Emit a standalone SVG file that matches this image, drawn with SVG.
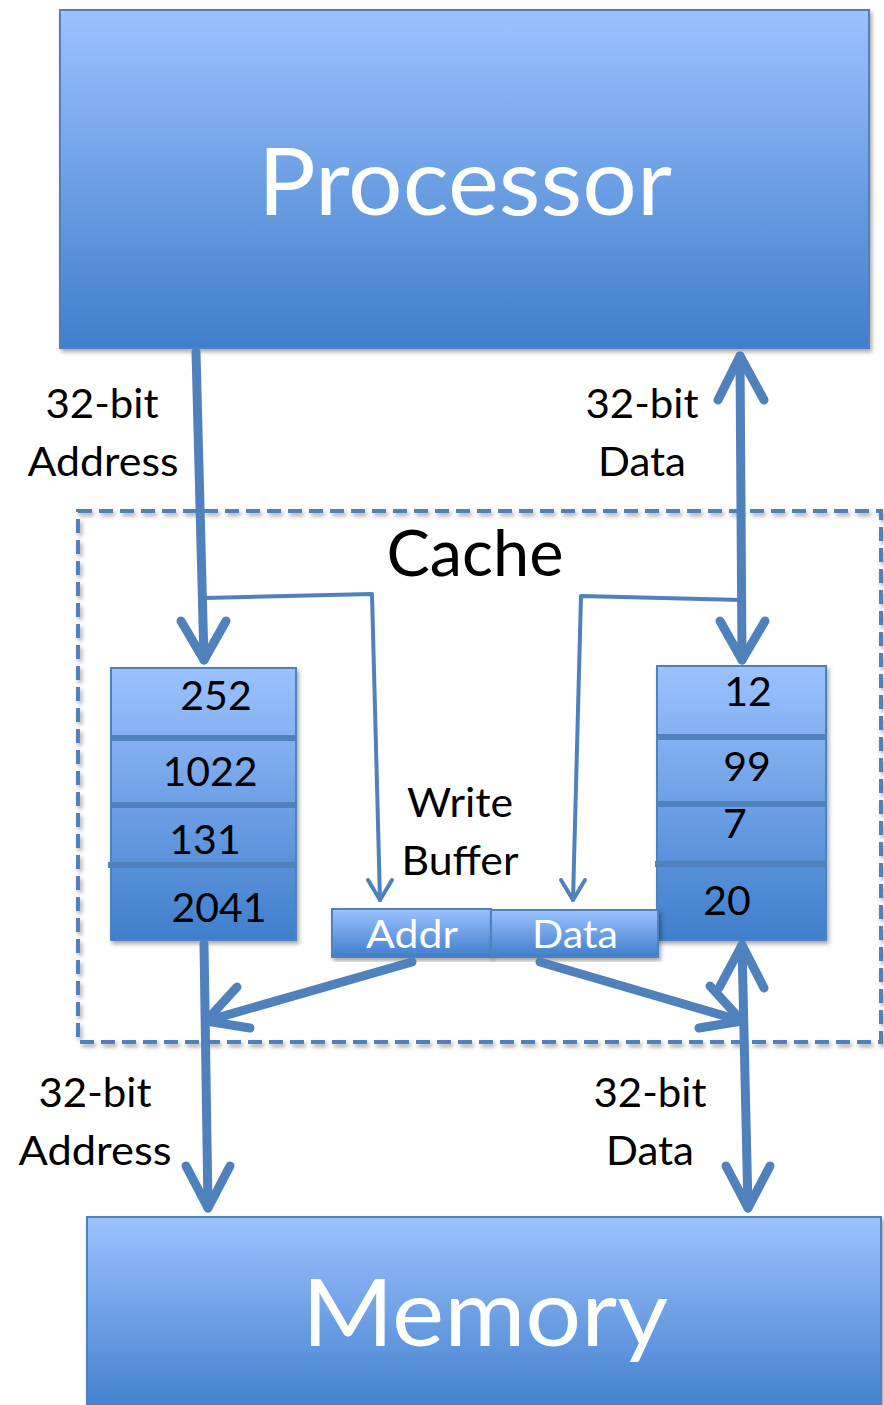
<svg xmlns="http://www.w3.org/2000/svg" width="884" height="1405" viewBox="0 0 884 1405">
<defs>
<linearGradient id="g" x1="0" y1="0" x2="0" y2="1">
<stop offset="0" stop-color="#9CC2FF"/>
<stop offset="1" stop-color="#3F7ECB"/>
</linearGradient>
<filter id="sh" x="-5%" y="-5%" width="115%" height="115%">
<feDropShadow dx="2" dy="3" stdDeviation="2" flood-color="#000" flood-opacity="0.35"/>
</filter>
<style>
.box{fill:url(#g);stroke:#4F81BD;stroke-width:2;filter:url(#sh)}
.t{font-family:Lato,"Open Sans",sans-serif;text-anchor:middle}
.w{fill:#fff}
.k{fill:#000}
.thick{fill:none;stroke:#4F81BD;stroke-width:9;stroke-linecap:round;stroke-linejoin:round}
.thin{fill:none;stroke:#4F81BD;stroke-width:4;stroke-linecap:round;stroke-linejoin:round}
.sep{stroke:#4F81BD;stroke-width:6}
</style>
</defs>
<rect width="884" height="1405" fill="#fff"/>

<g id="cache">
<rect x="78" y="511" width="803" height="531" fill="none" stroke="#4F81BD" stroke-width="4" stroke-dasharray="14 7" filter="url(#sh)"/>
<text class="t k" x="475" y="576" font-size="63" textLength="177" lengthAdjust="spacingAndGlyphs">Cache</text>
</g>

<g id="processor">
<rect class="box" x="60" y="10" width="809" height="338"/>
<text class="t w" x="465" y="215" font-size="94" textLength="414" lengthAdjust="spacingAndGlyphs">Processor</text>
</g>

<g id="memory">
<rect class="box" x="87" y="1217" width="794" height="200"/>
<text class="t w" x="485" y="1346" font-size="94" textLength="366" lengthAdjust="spacingAndGlyphs">Memory</text>
</g>

<g id="addr-stack">
<rect class="box" x="111" y="668" width="185" height="272"/>
<line class="sep" x1="111" y1="738" x2="297" y2="738"/>
<line class="sep" x1="111" y1="805" x2="296" y2="805"/>
<line class="sep" x1="108" y1="865" x2="296" y2="865"/>
<text class="t k" x="216" y="710" font-size="41">252</text>
<text class="t k" x="210" y="786" font-size="41">1022</text>
<text class="t k" x="205" y="854" font-size="41">131</text>
<text class="t k" x="219" y="922" font-size="41">2041</text>
</g>

<g id="data-stack">
<rect class="box" x="657" y="666" width="169" height="274"/>
<line class="sep" x1="657" y1="737" x2="827" y2="737"/>
<line class="sep" x1="657" y1="804" x2="826" y2="804"/>
<line class="sep" x1="655" y1="864" x2="826" y2="864"/>
<text class="t k" x="748" y="706" font-size="41">12</text>
<text class="t k" x="747" y="781" font-size="41">99</text>
<text class="t k" x="735" y="838" font-size="41">7</text>
<text class="t k" x="727" y="915" font-size="41">20</text>
</g>

<g id="write-buffer-label">
<text class="t k" x="460" y="817" font-size="40" textLength="106" lengthAdjust="spacingAndGlyphs">Write</text>
<text class="t k" x="460" y="875" font-size="40" textLength="117" lengthAdjust="spacingAndGlyphs">Buffer</text>
</g>

<g id="wb-addr">
<rect class="box" x="332" y="909" width="159" height="48"/>
<text class="t w" x="412" y="948" font-size="39" textLength="92" lengthAdjust="spacingAndGlyphs">Addr</text>
</g>
<g id="wb-data">
<rect class="box" x="491" y="910" width="167" height="47"/>
<text class="t w" x="575" y="948" font-size="39" textLength="86" lengthAdjust="spacingAndGlyphs">Data</text>
</g>

<g id="labels">
<text class="t k" x="102" y="418" font-size="40" textLength="113" lengthAdjust="spacingAndGlyphs">32-bit</text>
<text class="t k" x="103" y="476" font-size="40" textLength="151" lengthAdjust="spacingAndGlyphs">Address</text>
<text class="t k" x="642" y="418" font-size="40" textLength="113" lengthAdjust="spacingAndGlyphs">32-bit</text>
<text class="t k" x="642" y="476" font-size="40" textLength="88" lengthAdjust="spacingAndGlyphs">Data</text>
<text class="t k" x="95" y="1107" font-size="40" textLength="113" lengthAdjust="spacingAndGlyphs">32-bit</text>
<text class="t k" x="95" y="1165" font-size="40" textLength="153" lengthAdjust="spacingAndGlyphs">Address</text>
<text class="t k" x="650" y="1107" font-size="40" textLength="113" lengthAdjust="spacingAndGlyphs">32-bit</text>
<text class="t k" x="650" y="1165" font-size="40" textLength="88" lengthAdjust="spacingAndGlyphs">Data</text>
</g>

<g id="connectors">
<line class="thick" x1="196" y1="352" x2="204" y2="660"/>
<polyline class="thick" points="181,621 204,660 226,621"/>
<polyline class="thin" points="204,598 372,594 380,900"/>
<polyline class="thin" points="368,880 380,900 392,880"/>
<line class="thick" x1="740" y1="356" x2="742" y2="660"/>
<polyline class="thick" points="718,400 740,356 764,400"/>
<polyline class="thick" points="720,621 742,660 765,621"/>
<polyline class="thin" points="742,600 581,596 573,900"/>
<polyline class="thin" points="561,880 573,900 585,880"/>
<line class="thick" x1="204" y1="944" x2="208" y2="1208"/>
<polyline class="thick" points="186,1166 208,1208 230,1166"/>
<line class="thick" x1="742" y1="945" x2="748" y2="1208"/>
<polyline class="thick" points="719,988 742,945 764,988"/>
<polyline class="thick" points="726,1166 748,1208 770,1166"/>
<line class="thick" x1="412" y1="962" x2="206" y2="1021"/>
<polyline class="thick" points="237,987 206,1021 250,1028"/>
<line class="thick" x1="540" y1="962" x2="742" y2="1021"/>
<polyline class="thick" points="710,986 742,1021 699,1028"/>
</g>
</svg>
